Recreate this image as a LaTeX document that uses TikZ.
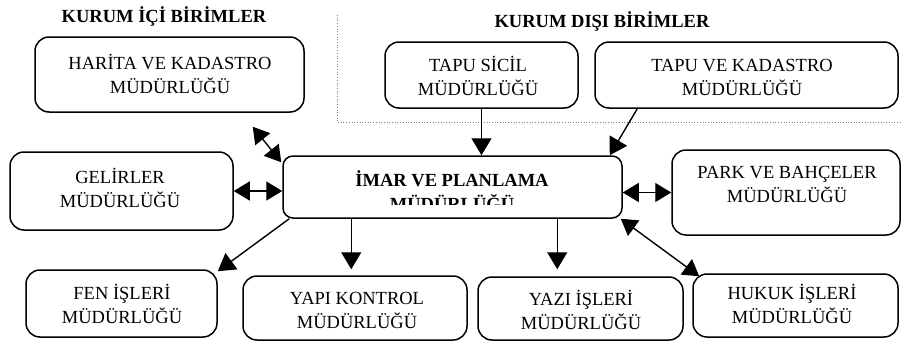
\documentclass[tikz,border=0pt]{standalone}
\usepackage{fontspec}
\setmainfont{Liberation Serif}
\usetikzlibrary{arrows.meta,calc}
\begin{document}
\begin{tikzpicture}[x=1pt,y=-1pt,
  box/.style={draw,line width=1.5pt,rounded corners=14pt,inner sep=0pt},
  lbl/.style={align=center,inner sep=0pt,font=\fontsize{18.5}{24}\selectfont},
  ttl/.style={inner sep=0pt,font=\fontsize{18.5}{24}\selectfont\bfseries},
  arr/.style={line width=1.4pt,-{Triangle[length=17pt,width=20pt]}},
  darr/.style={line width=1.4pt,{Triangle[length=16pt,width=19pt]}-{Triangle[length=16pt,width=19pt]}},
  dots/.style={dotted,line width=0.7pt,gray}]
\useasboundingbox (0,0) rectangle (902,343);
% dotted frame of external units
\coordinate (dtop) at (337,15);
\coordinate (dcorner) at (337,122);
\coordinate (dright) at (902,122);
\draw[dots] (dtop) -- (dcorner) -- (dright);
% titles
\node[ttl,anchor=base] (t1) at (164,22) {KURUM İÇİ BİRİMLER};
\node[ttl,anchor=base] (t2) at (602,27) {KURUM DIŞI BİRİMLER};
% boxes
\node[box,minimum width=269pt,minimum height=75pt] (har) at (169.5,74.5) {};
\node[box,minimum width=193pt,minimum height=66pt] (sic) at (481.5,75) {};
\node[box,minimum width=303pt,minimum height=66pt] (tkd) at (746.5,75) {};
\node[box,minimum width=339pt,minimum height=62pt,rounded corners=10pt] (cen) at (452.5,187) {};
\node[box,minimum width=223pt,minimum height=78pt] (gel) at (121.5,191) {};
\node[box,minimum width=228pt,minimum height=85pt] (park) at (786,192.5) {};
\node[box,minimum width=191pt,minimum height=67pt] (fen) at (121.5,303.5) {};
\node[box,minimum width=224pt,minimum height=64pt] (yapi) at (355,308) {};
\node[box,minimum width=205pt,minimum height=63pt] (yazi) at (580.5,308.5) {};
\node[box,minimum width=205pt,minimum height=63pt] (huk) at (795.5,305.5) {};
% texts (anchor=base is the baseline of the last line)
\node[lbl,anchor=base] (harT) at (170,93) {HARİTA VE KADASTRO\\MÜDÜRLÜĞÜ};
\node[lbl,anchor=base] (sicT) at (478,95) {TAPU SİCİL\\MÜDÜRLÜĞÜ};
\node[lbl,anchor=base] (tkdT) at (742,95) {TAPU VE KADASTRO\\MÜDÜRLÜĞÜ};
\begin{scope}
\clip (283,156) rectangle (622,204.5);
\node[lbl,anchor=base,font=\fontsize{18.5}{24}\selectfont\bfseries] (cenT) at (452,210) {İMAR VE PLANLAMA\\MÜDÜRLÜĞÜ};
\end{scope}
\node[lbl,anchor=base] (gelT) at (120,207) {GELİRLER\\MÜDÜRLÜĞÜ};
\node[lbl,anchor=base] (parkT) at (787,202) {PARK VE BAHÇELER\\MÜDÜRLÜĞÜ};
\node[lbl,anchor=base] (fenT) at (122,323) {FEN İŞLERİ\\MÜDÜRLÜĞÜ};
\node[lbl,anchor=base] (yapiT) at (357,328) {YAPI KONTROL\\MÜDÜRLÜĞÜ};
\node[lbl,anchor=base] (yaziT) at (581,329) {YAZI İŞLERİ\\MÜDÜRLÜĞÜ};
\node[lbl,anchor=base] (hukT) at (792,323) {HUKUK İŞLERİ\\MÜDÜRLÜĞÜ};
% connectors
\draw[arr] (sic.south) -- (sic.south |- cen.north);
\draw[arr] ($(tkd.south west)+(43,0)$) -- ($(cen.north east)+(-13,0)$);
\draw[darr] ($(har.south east)+(-52,14)$) -- ($(cen.north west)+(-1,7)$);
\draw[darr] (gel.east) -- (gel.east -| cen.west);
\draw[darr] (park.west -| cen.east) -- (park.west);
\draw[arr] ($(cen.south west)+(7,0)$) -- ($(fen.north east)+(0,2)$);
\draw[arr] ($(cen.south west)+(69,0)$) -- ($(yapi.north west)+(109,-6)$);
\draw[arr] ($(cen.south west)+(275,0)$) -- ($(yazi.north west)+(80,-7)$);
\draw[darr] ($(cen.south east)+(-2,0)$) -- ($(huk.north west)+(7,3)$);
\end{tikzpicture}
\end{document}
